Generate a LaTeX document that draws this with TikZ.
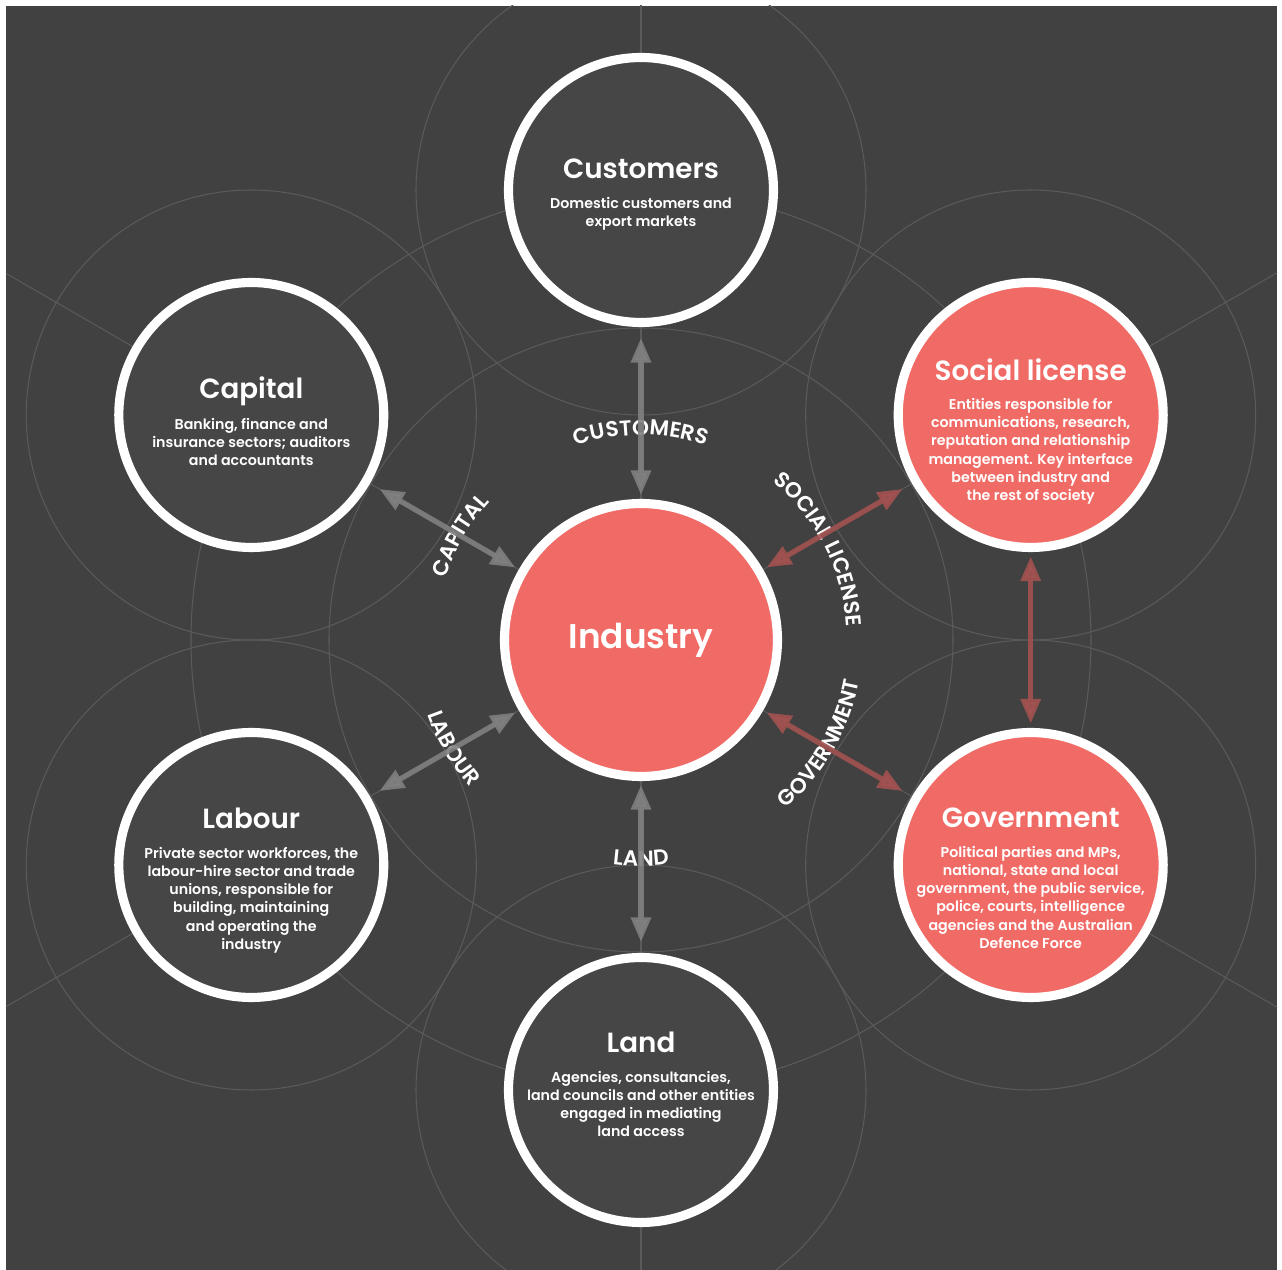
\documentclass[tikz,border=0pt]{standalone}
\usepackage{fontspec}
\setmainfont{Poppins}[UprightFont={* Medium},BoldFont={* SemiBold}]
\usepackage{tikz}
\usetikzlibrary{arrows.meta,positioning,backgrounds,calc}
\usetikzlibrary{decorations.text}
\definecolor{bgdark}{HTML}{414141}
\definecolor{nodedark}{HTML}{464646}
\definecolor{nodered}{HTML}{F16B66}
\definecolor{faintline}{HTML}{5A5A5A}
\definecolor{arrgray}{HTML}{808080}
\definecolor{arrred}{HTML}{A25250}
\newcommand{\ttlfont}{\fontsize{15.8}{18}\selectfont\bfseries}
\newcommand{\bodyfont}{\fontsize{8.1}{10.4}\selectfont\bfseries}
\newcommand{\hubfont}{\fontsize{19.5}{22}\selectfont\bfseries}
\newcommand{\lblfont}{\fontsize{12.3}{14}\selectfont\bfseries}

\begin{document}
\begin{tikzpicture}[x=0.02cm, y=0.02cm,
  faint/.style={draw=faintline, line width=0.6pt},
  toplbl/.style={decorate, decoration={text along path, text align=center, text color=white, text={|\lblfont|#1}}},
  botlbl/.style={decorate, decoration={text along path, text align=center, text color=white, text={|\lblfont|#1}}}]
\tikzstyle{outer}=[circle, draw=white, line width=5.2pt, fill=nodedark, minimum size=5.3cm, inner sep=0pt]
\tikzstyle{redout}=[outer, fill=nodered]
\tikzstyle{hub}=[outer, fill=nodered, minimum size=5.46cm, text=white, font=\hubfont]
\tikzstyle{txt}=[anchor=north, inner sep=0pt, align=center, text=white, font=\bodyfont]
\tikzstyle{grayarr}=[draw=arrgray, line width=3pt, {Triangle[length=14pt,width=11pt]}-{Triangle[length=14pt,width=11pt]}, shorten <=2.3pt, shorten >=6.2pt]
\tikzstyle{redarr}=[grayarr, draw=arrred]
\useasboundingbox (-641,-630) rectangle (641,640);

\node[hub] (ind) at (0,0) {Industry};
\node[outer] (cust) at (90:450) {};
\node[outer] (cap) at (150:450) {};
\node[redout] (soc) at (30:450) {};
\node[outer] (lab) at (210:450) {};
\node[redout] (gov) at (330:450) {};
\node[outer] (land) at (270:450) {};

\node[txt] (custtxt) at ($(cust)+(0,31)$) {{\ttlfont Customers}\\[6.2pt] Domestic customers and\\ export markets};
\node[txt] (captxt) at ($(cap)+(0,39)$) {{\ttlfont Capital}\\[6.2pt] Banking, finance and\\ insurance sectors; auditors\\ and accountants};
\node[txt] (soctxt) at ($(soc)+(0,57)$) {{\ttlfont Social license}\\[6.2pt] Entities responsible for\\ communications, research,\\ reputation and relationship\\ management. Key interface\\ between industry and\\ the rest of society};
\node[txt] (labtxt) at ($(lab)+(0,57)$) {{\ttlfont Labour}\\[6.2pt] Private sector workforces, the\\ labour-hire sector and trade\\ unions, responsible for\\ building, maintaining\\ and operating the\\ industry};
\node[txt] (govtxt) at ($(gov)+(0,57)$) {{\ttlfont Government}\\[6.2pt] Political parties and MPs,\\ national, state and local\\ government, the public service,\\ police, courts, intelligence\\ agencies and the Australian\\ Defence Force};
\node[txt] (landtxt) at ($(land)+(0,58)$) {{\ttlfont Land}\\[6.2pt] Agencies, consultancies,\\ land councils and other entities\\ engaged in mediating\\ land access};

% background grid of faint circles and spokes
\begin{scope}[on background layer]
\fill[white] (-641,-630) rectangle (641,640);
\fill[bgdark] (-635,-630) rectangle (636,634);
\clip (-635,-630) rectangle (636,634);
\foreach \n in {cust,cap,soc,lab,gov,land}{\draw[faint] (\n.center) circle[radius=225];}
\draw[faint] (ind.center) circle[radius=312];
\draw[faint] (ind.center) circle[radius=450];
\foreach \a in {30,90,...,330}{\draw[faint] (ind.center) -- (\a:1000);}
\end{scope}

% curved labels
\path[toplbl=CUSTOMERS] (130:205) arc[start angle=130, end angle=50, radius=205];
\path[toplbl=CAPITAL] (195:205) arc[start angle=195, end angle=105, radius=205];
\path[toplbl=SOCIAL LICENSE] (72:206) arc[start angle=72, end angle=-18, radius=206];
\path[botlbl=LAND] (230:226) arc[start angle=230, end angle=310, radius=226];
\path[botlbl=LABOUR] (165:226) arc[start angle=165, end angle=255, radius=226];
\path[botlbl=GOVERNMENT] (285:222) arc[start angle=285, end angle=375, radius=222];

% arrows
\foreach \i/\j in {ind/cust,ind/cap,ind/lab,ind/land}{\draw[grayarr, opacity=0.9] (\i) -- (\j);}
\foreach \i/\j in {ind/soc,ind/gov}{\draw[redarr, opacity=0.9] (\i) -- (\j);}
\draw[redarr, opacity=0.9, shorten <=2.5pt, shorten >=2.5pt] (soc) -- (gov);
\end{tikzpicture}
\end{document}
